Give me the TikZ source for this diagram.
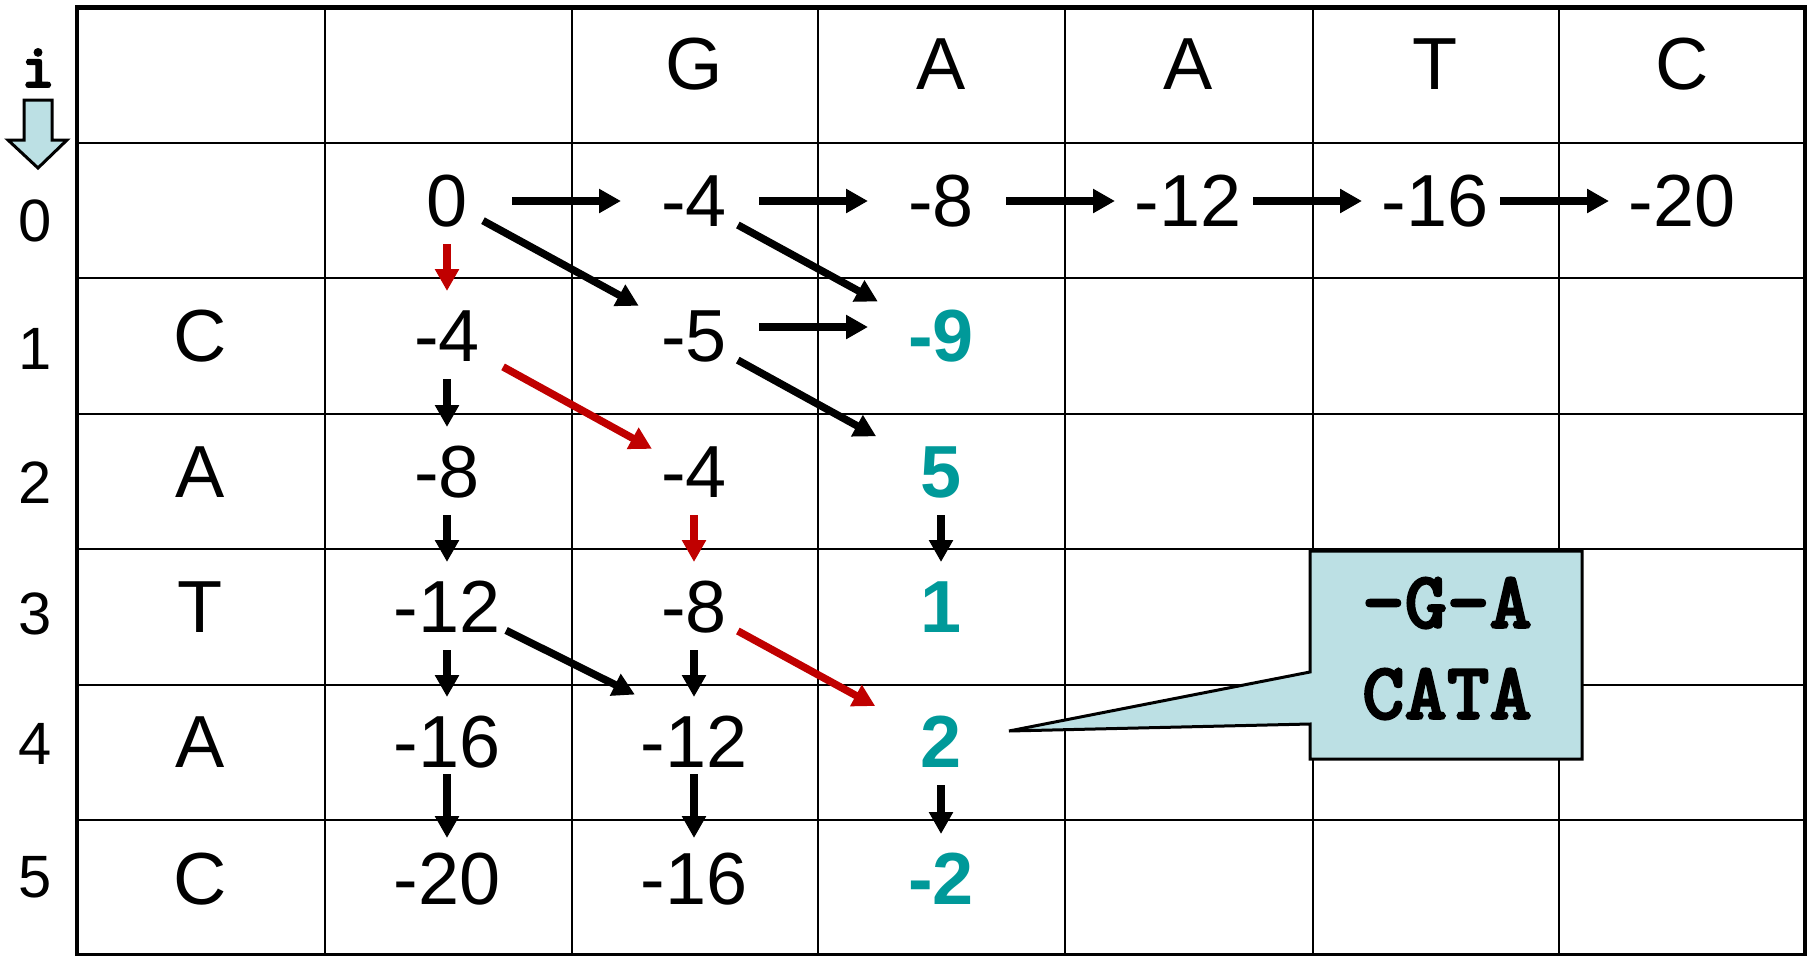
\documentclass[tikz,border=0pt]{standalone}
\usepackage{fontspec}
\setmainfont{Liberation Sans}
\newfontfamily\monob[FakeBold=2.5]{lmmonolt10-bold.otf}
\usetikzlibrary{arrows.meta}

\definecolor{scoreteal}{RGB}{0,153,153}
\definecolor{tracered}{RGB}{192,0,0}
\definecolor{notefill}{RGB}{188,224,228}

\begin{document}
\begin{tikzpicture}[
	x=1cm,
	y=-1cm,
	cell/.style={inner sep=0pt, font=\fontsize{21}{25}\selectfont},
	best/.style={inner sep=0pt, text=scoreteal, font=\fontsize{21}{25}\selectfont\bfseries},
	idx/.style={inner sep=0pt, font=\fontsize{17}{20}\selectfont},
	note/.style={inner sep=0pt, font=\monob\fontsize{23}{27}\selectfont},
	arr/.style={line width=0.075cm, -{Triangle[length=0.22cm,width=0.23cm]}},
	harr/.style={arr, shorten <=0.65cm, shorten >=0.73cm},
	varr/.style={arr, shorten <=0.43cm, shorten >=0.45cm},
	vlong/.style={arr, shorten <=0.32cm, shorten >=0.41cm},
	darr/.style={arr, shorten <=0.5cm, shorten >=0.72cm}
	]
	\useasboundingbox (0,0) rectangle (18.12,9.55);

	% table
	\draw[line width=0.02cm]
		(3.25,0.07) -- (3.25,9.55) (5.72,0.07) -- (5.72,9.55) (8.18,0.07) -- (8.18,9.55)
		(10.65,0.07) -- (10.65,9.55) (13.13,0.07) -- (13.13,9.55) (15.59,0.07) -- (15.59,9.55)
		(0.77,1.43) -- (18.05,1.43) (0.77,2.78) -- (18.05,2.78) (0.77,4.14) -- (18.05,4.14)
		(0.77,5.49) -- (18.05,5.49) (0.77,6.85) -- (18.05,6.85) (0.77,8.20) -- (18.05,8.20);
	\draw[line width=0.045cm] (0.77,0.075) rectangle (18.05,9.55);

	% index i
	\node[inner sep=0pt, font=\monob\fontsize{18}{20}\selectfont] (ilab) at (0.38,0.68) {i};
	\draw[line width=0.03cm, fill=notefill] (0.24,1.00) -- (0.52,1.00) -- (0.52,1.40) -- (0.67,1.40)
		-- (0.38,1.68) -- (0.08,1.40) -- (0.24,1.40) -- cycle;
	\node[idx] (r0) at (0.35,2.21) {0};
	\node[idx] (r1) at (0.35,3.49) {1};
	\node[idx] (r2) at (0.35,4.83) {2};
	\node[idx] (r3) at (0.35,6.14) {3};
	\node[idx] (r4) at (0.35,7.44) {4};
	\node[idx] (r5) at (0.35,8.77) {5};

	% sequences
	\node[cell] (top1) at (6.94,0.64) {G};
	\node[cell] (top2) at (9.41,0.64) {A};
	\node[cell] (top3) at (11.88,0.64) {A};
	\node[cell] (top4) at (14.35,0.64) {T};
	\node[cell] (top5) at (16.82,0.64) {C};
	\node[cell] (side1) at (2.00,3.36) {C};
	\node[cell] (side2) at (2.00,4.72) {A};
	\node[cell] (side3) at (2.00,6.07) {T};
	\node[cell] (side4) at (2.00,7.42) {A};
	\node[cell] (side5) at (2.00,8.79) {C};

	% scores
	\node[cell] (s00) at (4.47,2.01) {0};
	\node[cell] (s01) at (6.94,2.01) {-4};
	\node[cell] (s02) at (9.41,2.01) {-8};
	\node[cell] (s03) at (11.88,2.01) {-12};
	\node[cell] (s04) at (14.35,2.01) {-16};
	\node[cell] (s05) at (16.82,2.01) {-20};
	\node[cell] (s10) at (4.47,3.36) {-4};
	\node[cell] (s11) at (6.94,3.36) {-5};
	\node[best] (s12) at (9.41,3.36) {-9};
	\node[cell] (s20) at (4.47,4.72) {-8};
	\node[cell] (s21) at (6.94,4.72) {-4};
	\node[best] (s22) at (9.41,4.72) {5};
	\node[cell] (s30) at (4.47,6.07) {-12};
	\node[cell] (s31) at (6.94,6.07) {-8};
	\node[best] (s32) at (9.41,6.07) {1};
	\node[cell] (s40) at (4.47,7.42) {-16};
	\node[cell] (s41) at (6.94,7.42) {-12};
	\node[best] (s42) at (9.41,7.42) {2};
	\node[cell] (s50) at (4.47,8.79) {-20};
	\node[cell] (s51) at (6.94,8.79) {-16};
	\node[best] (s52) at (9.41,8.79) {-2};

	% row 0
	\draw[harr] (s00.center) -- (s01.center);
	\draw[harr] (s01.center) -- (s02.center);
	\draw[harr] (s02.center) -- (s03.center);
	\draw[harr] (s03.center) -- (s04.center);
	\draw[harr] (s04.center) -- (s05.center);
	\draw[harr] ([yshift=0.09cm]s11.center) -- ([yshift=0.09cm]s12.center);

	% down
	\draw[varr, tracered] (s00.center) -- (s10.center);
	\draw[varr] (s10.center) -- (s20.center);
	\draw[varr] (s20.center) -- (s30.center);
	\draw[varr] (s30.center) -- (s40.center);
	\draw[vlong] (s40.center) -- (s50.center);
	\draw[varr, tracered] (s21.center) -- (s31.center);
	\draw[varr] (s31.center) -- (s41.center);
	\draw[vlong] (s41.center) -- (s51.center);
	\draw[varr] (s22.center) -- (s32.center);
	\draw[varr] (s42.center) -- (s52.center);

	% diagonal
	\draw[darr, shorten <=0.41cm, shorten >=0.63cm] (s00.center) -- (s11.center);
	\draw[darr] (s01.center) -- (s12.center);
	\draw[darr, shorten >=0.74cm] (s11.center) -- (s22.center);
	\draw[darr, tracered, shorten <=0.64cm, shorten >=0.48cm] (s10.center) -- (s21.center);
	\draw[darr, shorten <=0.66cm, shorten >=0.66cm] ([yshift=0.06cm]s30.center) -- ([yshift=0.18cm]s41.center);
	\draw[darr, tracered, shorten >=0.75cm] (s31.center) -- (s42.center);

	% alignment note
	\draw[line width=0.03cm, fill=notefill] (13.10,5.51) -- (15.82,5.51) -- (15.82,7.59) -- (13.10,7.59)
		-- (13.10,7.24) -- (10.09,7.31) -- (13.10,6.72) -- cycle;
	\node[note] (aln1) at (14.47,6.03) {-G-A};
	\node[note] (aln2) at (14.47,6.94) {CATA};
\end{tikzpicture}
\end{document}
